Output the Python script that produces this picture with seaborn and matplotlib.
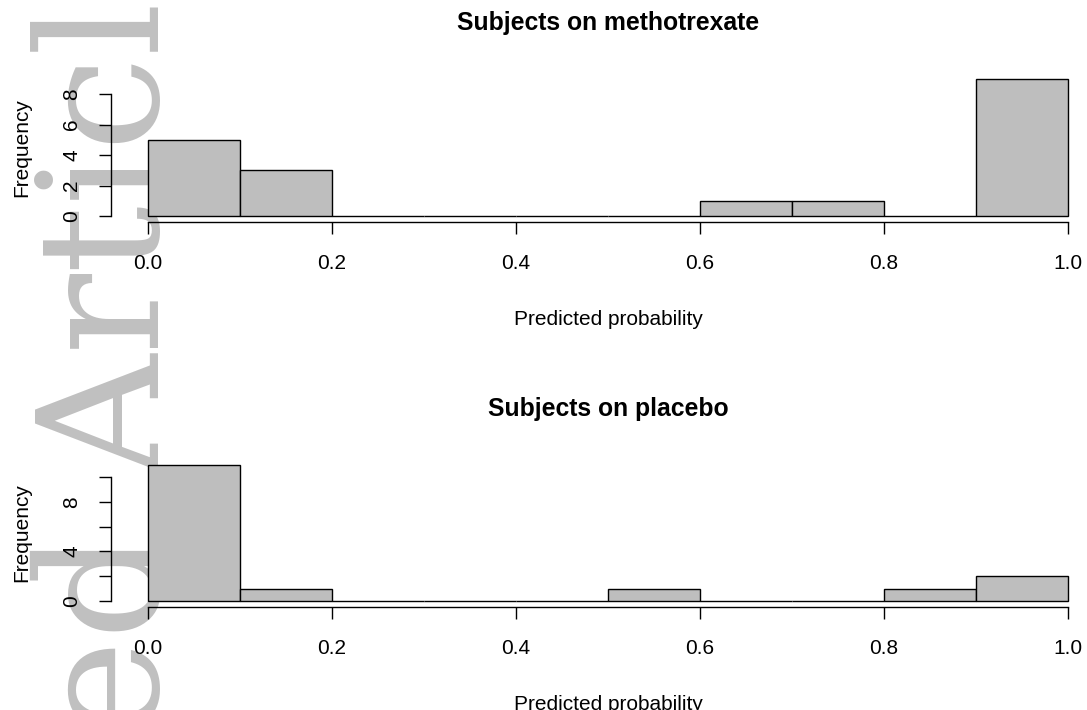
import matplotlib
matplotlib.use("Agg")
import matplotlib.pyplot as plt
import numpy as np
import seaborn as sns

# histogram bins shared by both panels
bin_edges = [0.0, 0.1, 0.2, 0.3, 0.4, 0.5, 0.6, 0.7, 0.8, 0.9, 1.0]
mtx_counts = [5, 3, 0, 0, 0, 0, 1, 1, 0, 9]
pbo_counts = [11, 1, 0, 0, 0, 1, 0, 0, 1, 2]

x_ticks = [0.0, 0.2, 0.4, 0.6, 0.8, 1.0]
x_tick_labels = ["0.0", "0.2", "0.4", "0.6", "0.8", "1.0"]
mtx_yticks = [0, 2, 4, 6, 8]
mtx_ytick_labels = ["0", "2", "4", "6", "8"]
pbo_yticks = [0, 2, 4, 6, 8, 10]
pbo_ytick_labels = ["0", "", "4", "", "8", ""]

titles = ["Subjects on methotrexate", "Subjects on placebo"]

sns.set_style("ticks", {
    "axes.edgecolor": "black",
    "xtick.color": "black",
    "ytick.color": "black",
    "text.color": "black",
    "axes.labelcolor": "black",
})
plt.rcParams["font.family"] = ["Liberation Sans", "DejaVu Sans"]

W, H = 1087, 710
fig = plt.figure(figsize=(W / 100, H / 100), dpi=100)
fig.patch.set_facecolor("white")

# watermark behind everything
fig.text(160 / W, (H + 98) / H, "Accepted Article", rotation=90,
         rotation_mode="anchor", ha="right", va="baseline",
         fontsize=122, color="#C0C0C0", family="DejaVu Serif", zorder=-5)


def panel(rect, counts, yticks, ylabels, ymax, title):
    ax = fig.add_axes(rect)
    ax.patch.set_visible(False)
    centers = [(a + b) / 2 for a, b in zip(bin_edges[:-1], bin_edges[1:])]
    sns.histplot(x=centers, weights=counts, bins=bin_edges, ax=ax,
                 color="#BEBEBE", alpha=1, edgecolor="black", linewidth=1.0)
    pad = 0.04
    ax.set_xlim(-pad, 1 + pad)
    ax.set_ylim(-pad * ymax, ymax * (1 + pad))
    ax.spines["top"].set_visible(False)
    ax.spines["right"].set_visible(False)
    ax.spines["left"].set_bounds(yticks[0], yticks[-1])
    ax.spines["bottom"].set_bounds(0, 1)
    for s in ("left", "bottom"):
        ax.spines[s].set_linewidth(1.0)
    ax.set_xticks(x_ticks)
    ax.set_xticklabels(x_tick_labels)
    ax.set_yticks(yticks)
    ax.set_yticklabels(ylabels)
    ax.tick_params(length=8.6, width=1.0, pad=13, labelsize=15)
    ax.tick_params(axis="x", pad=14.5)
    plt.setp(ax.get_yticklabels(), rotation=90, va="center")
    ax.set_xlabel("Predicted probability", fontsize=15, labelpad=27)
    ax.set_ylabel("Frequency", fontsize=15, labelpad=22)
    ax.set_title(title, fontsize=17.8, fontweight="bold", pad=31)
    return ax


left = 111.2 / W
width = 993.6 / W
panel([left, (H - 221.5) / H, width, 148.2 / H], mtx_counts,
      mtx_yticks, mtx_ytick_labels, 9, titles[0])
panel([left, (H - 606.5) / H, width, 147.4 / H], pbo_counts,
      pbo_yticks, pbo_ytick_labels, 11, titles[1])

fig.savefig("out.png", dpi=100)
